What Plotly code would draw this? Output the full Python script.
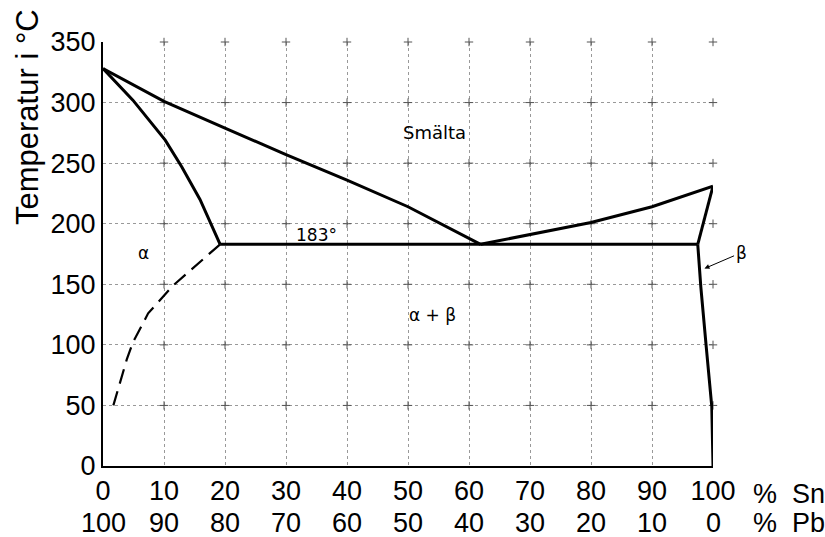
import plotly.graph_objects as go

# --- data ---
liq_left_x = [0, 10, 20, 30, 40, 50, 61.9]
liq_left_T = [328, 301, 279, 257, 236, 214, 183]
liq_right_x = [61.9, 70, 80, 90, 100]
liq_right_T = [183, 191, 201, 214, 231]
sol_left_x = [0, 4.9, 10.2, 12.9, 15.9, 19.2]
sol_left_T = [328, 302, 269, 247, 220, 183]
eut_x = [19.2, 97.5]
eut_T = [183, 183]
sol_right_x = [97.5, 100]
sol_right_T = [183, 231]
solv_right_x = [97.5, 98.0, 98.9, 99.8, 100]
solv_right_T = [183, 148, 98, 49, 0]
solv_left_x = [19.2, 15.6, 11.5, 7.4, 4.9, 3.9, 1.7]
solv_left_T = [183, 167, 149, 126, 102, 88, 50]

sn_ticks = [0, 10, 20, 30, 40, 50, 60, 70, 80, 90, 100]
pb_labels = ["100", "90", "80", "70", "60", "50", "40", "30", "20", "10", "0"]
t_ticks = [0, 50, 100, 150, 200, 250, 300, 350]

AXFONT = "Liberation Sans"
FONT = "DejaVu Sans"
AXSIZE = 27
fig = go.Figure()

# grid crosses
cx, cy = [], []
for xv in sn_ticks[1:]:
    for yv in t_ticks[1:]:
        cx.append(xv); cy.append(yv)
fig.add_trace(go.Scatter(x=cx, y=cy, mode="markers",
                         marker=dict(symbol="cross-thin", size=6, line=dict(color="#555", width=1)),
                         hoverinfo="skip", showlegend=False, cliponaxis=False))

solid = dict(color="black", width=3)
for xs, ys in [(liq_left_x, liq_left_T), (liq_right_x, liq_right_T), (sol_left_x, sol_left_T),
               (eut_x, eut_T), (sol_right_x, sol_right_T), (solv_right_x, solv_right_T)]:
    fig.add_trace(go.Scatter(x=xs, y=ys, mode="lines", line=solid, showlegend=False, cliponaxis=False))
fig.add_trace(go.Scatter(x=solv_left_x, y=solv_left_T, mode="lines",
                         line=dict(color="black", width=2.2, dash="15px,8px"), showlegend=False))

grid = dict(showgrid=True, gridcolor="#999", griddash="dot", gridwidth=1,
            showline=True, linecolor="black", linewidth=2, zeroline=False, ticks="",
            tickfont=dict(family=AXFONT, size=AXSIZE, color="black"))
fig.update_xaxes(range=[0, 100], tickvals=sn_ticks, ticktext=[str(v) for v in sn_ticks], **grid)
fig.update_yaxes(range=[0, 350], tickvals=t_ticks, **grid)

# plot area in screen pixels: x 103..713, y 42..466
PX0, PX1, PY0, PY1 = 103, 713, 42, 466
W, H = 825, 537
def px_to_paper_x(px):
    return (px - PX0) / (PX1 - PX0)
def px_to_paper_y(py):
    return (PY1 - py) / (PY1 - PY0)

ann = []
for xv, lab in zip(sn_ticks, pb_labels):
    ann.append(dict(x=xv, y=px_to_paper_y(523), xref="x", yref="paper", text=lab, showarrow=False,
                    font=dict(family=AXFONT, size=AXSIZE, color="black"), xanchor="center", yanchor="middle"))
ann.append(dict(x=px_to_paper_x(751), y=px_to_paper_y(494), xref="paper", yref="paper", text="%\u00a0\u00a0Sn",
                showarrow=False, font=dict(family=AXFONT, size=AXSIZE, color="black"),
                xanchor="left", yanchor="middle"))
ann.append(dict(x=px_to_paper_x(751), y=px_to_paper_y(523), xref="paper", yref="paper", text="%\u00a0\u00a0Pb",
                showarrow=False, font=dict(family=AXFONT, size=AXSIZE, color="black"),
                xanchor="left", yanchor="middle"))
ann.append(dict(x=px_to_paper_x(27), y=px_to_paper_y(117), xref="paper", yref="paper",
                text="Temperatur i °C", showarrow=False, textangle=-90, xanchor="center", yanchor="middle",
                font=dict(family=AXFONT, size=31, color="black")))
ann.append(dict(x=54.4, y=275, text="Smälta", showarrow=False, font=dict(family=FONT, size=18, color="black")))
ann.append(dict(x=35, y=191, text="183°", showarrow=False, font=dict(family=FONT, size=17, color="black")))
ann.append(dict(x=6.6, y=176, text="α", showarrow=False, font=dict(family=FONT, size=17, color="black")))
ann.append(dict(x=54, y=125, text="α + β", showarrow=False, font=dict(family=FONT, size=17, color="black")))
ann.append(dict(x=98.6, y=163, ax=104.6, ay=176, axref="x", ayref="y", text="β", showarrow=True,
                arrowhead=2, arrowsize=1, arrowwidth=1, arrowcolor="black",
                font=dict(family=FONT, size=17, color="black")))

fig.update_layout(width=W, height=H,
                  margin=dict(l=PX0, r=W - PX1, t=PY0, b=H - PY1, autoexpand=False),
                  paper_bgcolor="white", plot_bgcolor="white", annotations=ann,
                  showlegend=False)
fig.write_html("out.html", config={"displayModeBar": False},
               post_script="document.body.style.margin='0';document.body.style.overflow='hidden';")
